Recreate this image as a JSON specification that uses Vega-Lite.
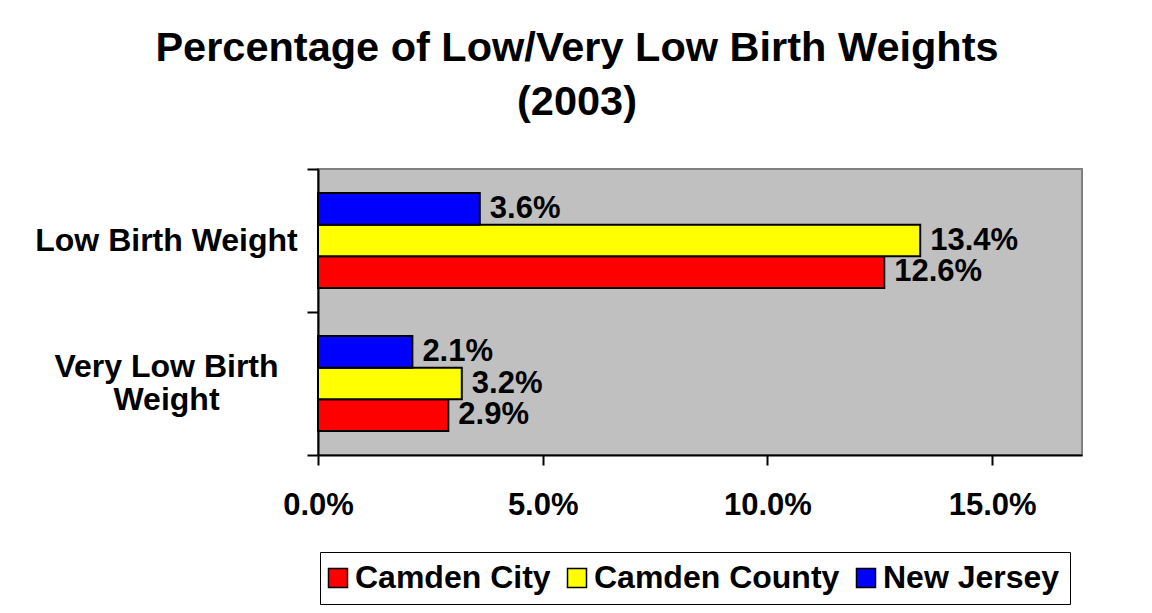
{
  "$schema": "https://vega.github.io/schema/vega-lite/v6.json",
  "width": 764,
  "height": 286,
  "autosize": {"type": "none"},
  "padding": {"left": 318, "top": 169, "right": 70, "bottom": 158},
  "background": "white",
  "title": {
    "text": ["Percentage of Low/Very Low Birth Weights", "(2003)"],
    "fontSize": 41.5,
    "fontWeight": "bold",
    "font": "Liberation Sans",
    "color": "black",
    "anchor": "middle",
    "dx": -123,
    "lineHeight": 54,
    "offset": 30
  },
  "data": {
    "values": [
      {"measure": "Low Birth Weight", "area": "Camden City", "pct": 0.126},
      {"measure": "Low Birth Weight", "area": "Camden County", "pct": 0.134},
      {"measure": "Low Birth Weight", "area": "New Jersey", "pct": 0.036},
      {"measure": "Very Low Birth Weight", "area": "Camden City", "pct": 0.029},
      {"measure": "Very Low Birth Weight", "area": "Camden County", "pct": 0.032},
      {"measure": "Very Low Birth Weight", "area": "New Jersey", "pct": 0.021}
    ]
  },
  "encoding": {
    "y": {
      "field": "measure",
      "type": "nominal",
      "sort": ["Low Birth Weight", "Very Low Birth Weight"],
      "scale": {"paddingInner": 0, "paddingOuter": 0},
      "axis": {
        "title": null,
        "domainColor": "black",
        "domainWidth": 2,
        "tickColor": "black",
        "tickWidth": 2,
        "tickSize": 11,
        "tickBand": "extent",
        "labelFontSize": 32,
        "labelFontWeight": "bold",
        "labelColor": "black",
        "labelAlign": "center",
        "labelPadding": 141,
        "labelLineHeight": 33,
        "labelLimit": 0,
        "labelOffset": {"condition": {"test": "datum.value == 'Very Low Birth Weight'", "value": -17}, "value": 0},
        "grid": false,
        "labelExpr": "datum.value == 'Very Low Birth Weight' ? ['Very Low Birth', 'Weight'] : datum.label"
      }
    },
    "yOffset": {
      "field": "area",
      "type": "nominal",
      "sort": ["New Jersey", "Camden County", "Camden City"],
      "scale": {"paddingInner": 0, "paddingOuter": 0.757}
    },
    "x": {
      "field": "pct",
      "type": "quantitative",
      "scale": {"domain": [0, 0.17], "nice": false, "zero": true},
      "axis": {
        "title": null,
        "values": [0, 0.05, 0.1, 0.15],
        "format": ".1%",
        "domainColor": "black",
        "domainWidth": 2,
        "tickColor": "black",
        "tickWidth": 2,
        "tickSize": 10,
        "labelPadding": 25,
        "labelFontSize": 31,
        "labelFontWeight": "bold",
        "labelColor": "black",
        "labelFlush": false,
        "grid": false
      }
    }
  },
  "layer": [
    {
      "mark": {"type": "bar", "stroke": "black", "strokeWidth": 2},
      "encoding": {
        "color": {
          "field": "area",
          "type": "nominal",
          "scale": {
            "domain": ["Camden City", "Camden County", "New Jersey"],
            "range": ["#FF0000", "#FFFF00", "#0000FF"]
          },
          "legend": {
            "orient": "none",
            "legendX": 2,
            "legendY": 383,
            "direction": "horizontal",
            "title": null,
            "strokeColor": "black",
            "fillColor": "white",
            "padding": 10,
            "symbolType": "square",
            "symbolSize": 361,
            "symbolStrokeColor": "black",
            "symbolStrokeWidth": 1.5,
            "symbolOpacity": 1,
            "symbolOffset": -8,
            "labelFontSize": 32,
            "labelFontWeight": "bold",
            "labelColor": "black",
            "labelOffset": 1,
            "columnPadding": 13,
            "labelLimit": 0
          }
        }
      }
    },
    {
      "mark": {
        "type": "text",
        "align": "left",
        "baseline": "middle",
        "dx": 10,
        "fontSize": 31,
        "fontWeight": "bold",
        "color": "black"
      },
      "encoding": {
        "text": {"field": "pct", "type": "quantitative", "format": ".1%"}
      }
    }
  ],
  "config": {
    "font": "Liberation Sans",
    "view": {"fill": "#C0C0C0", "stroke": "#808080", "strokeWidth": 2}
  }
}
